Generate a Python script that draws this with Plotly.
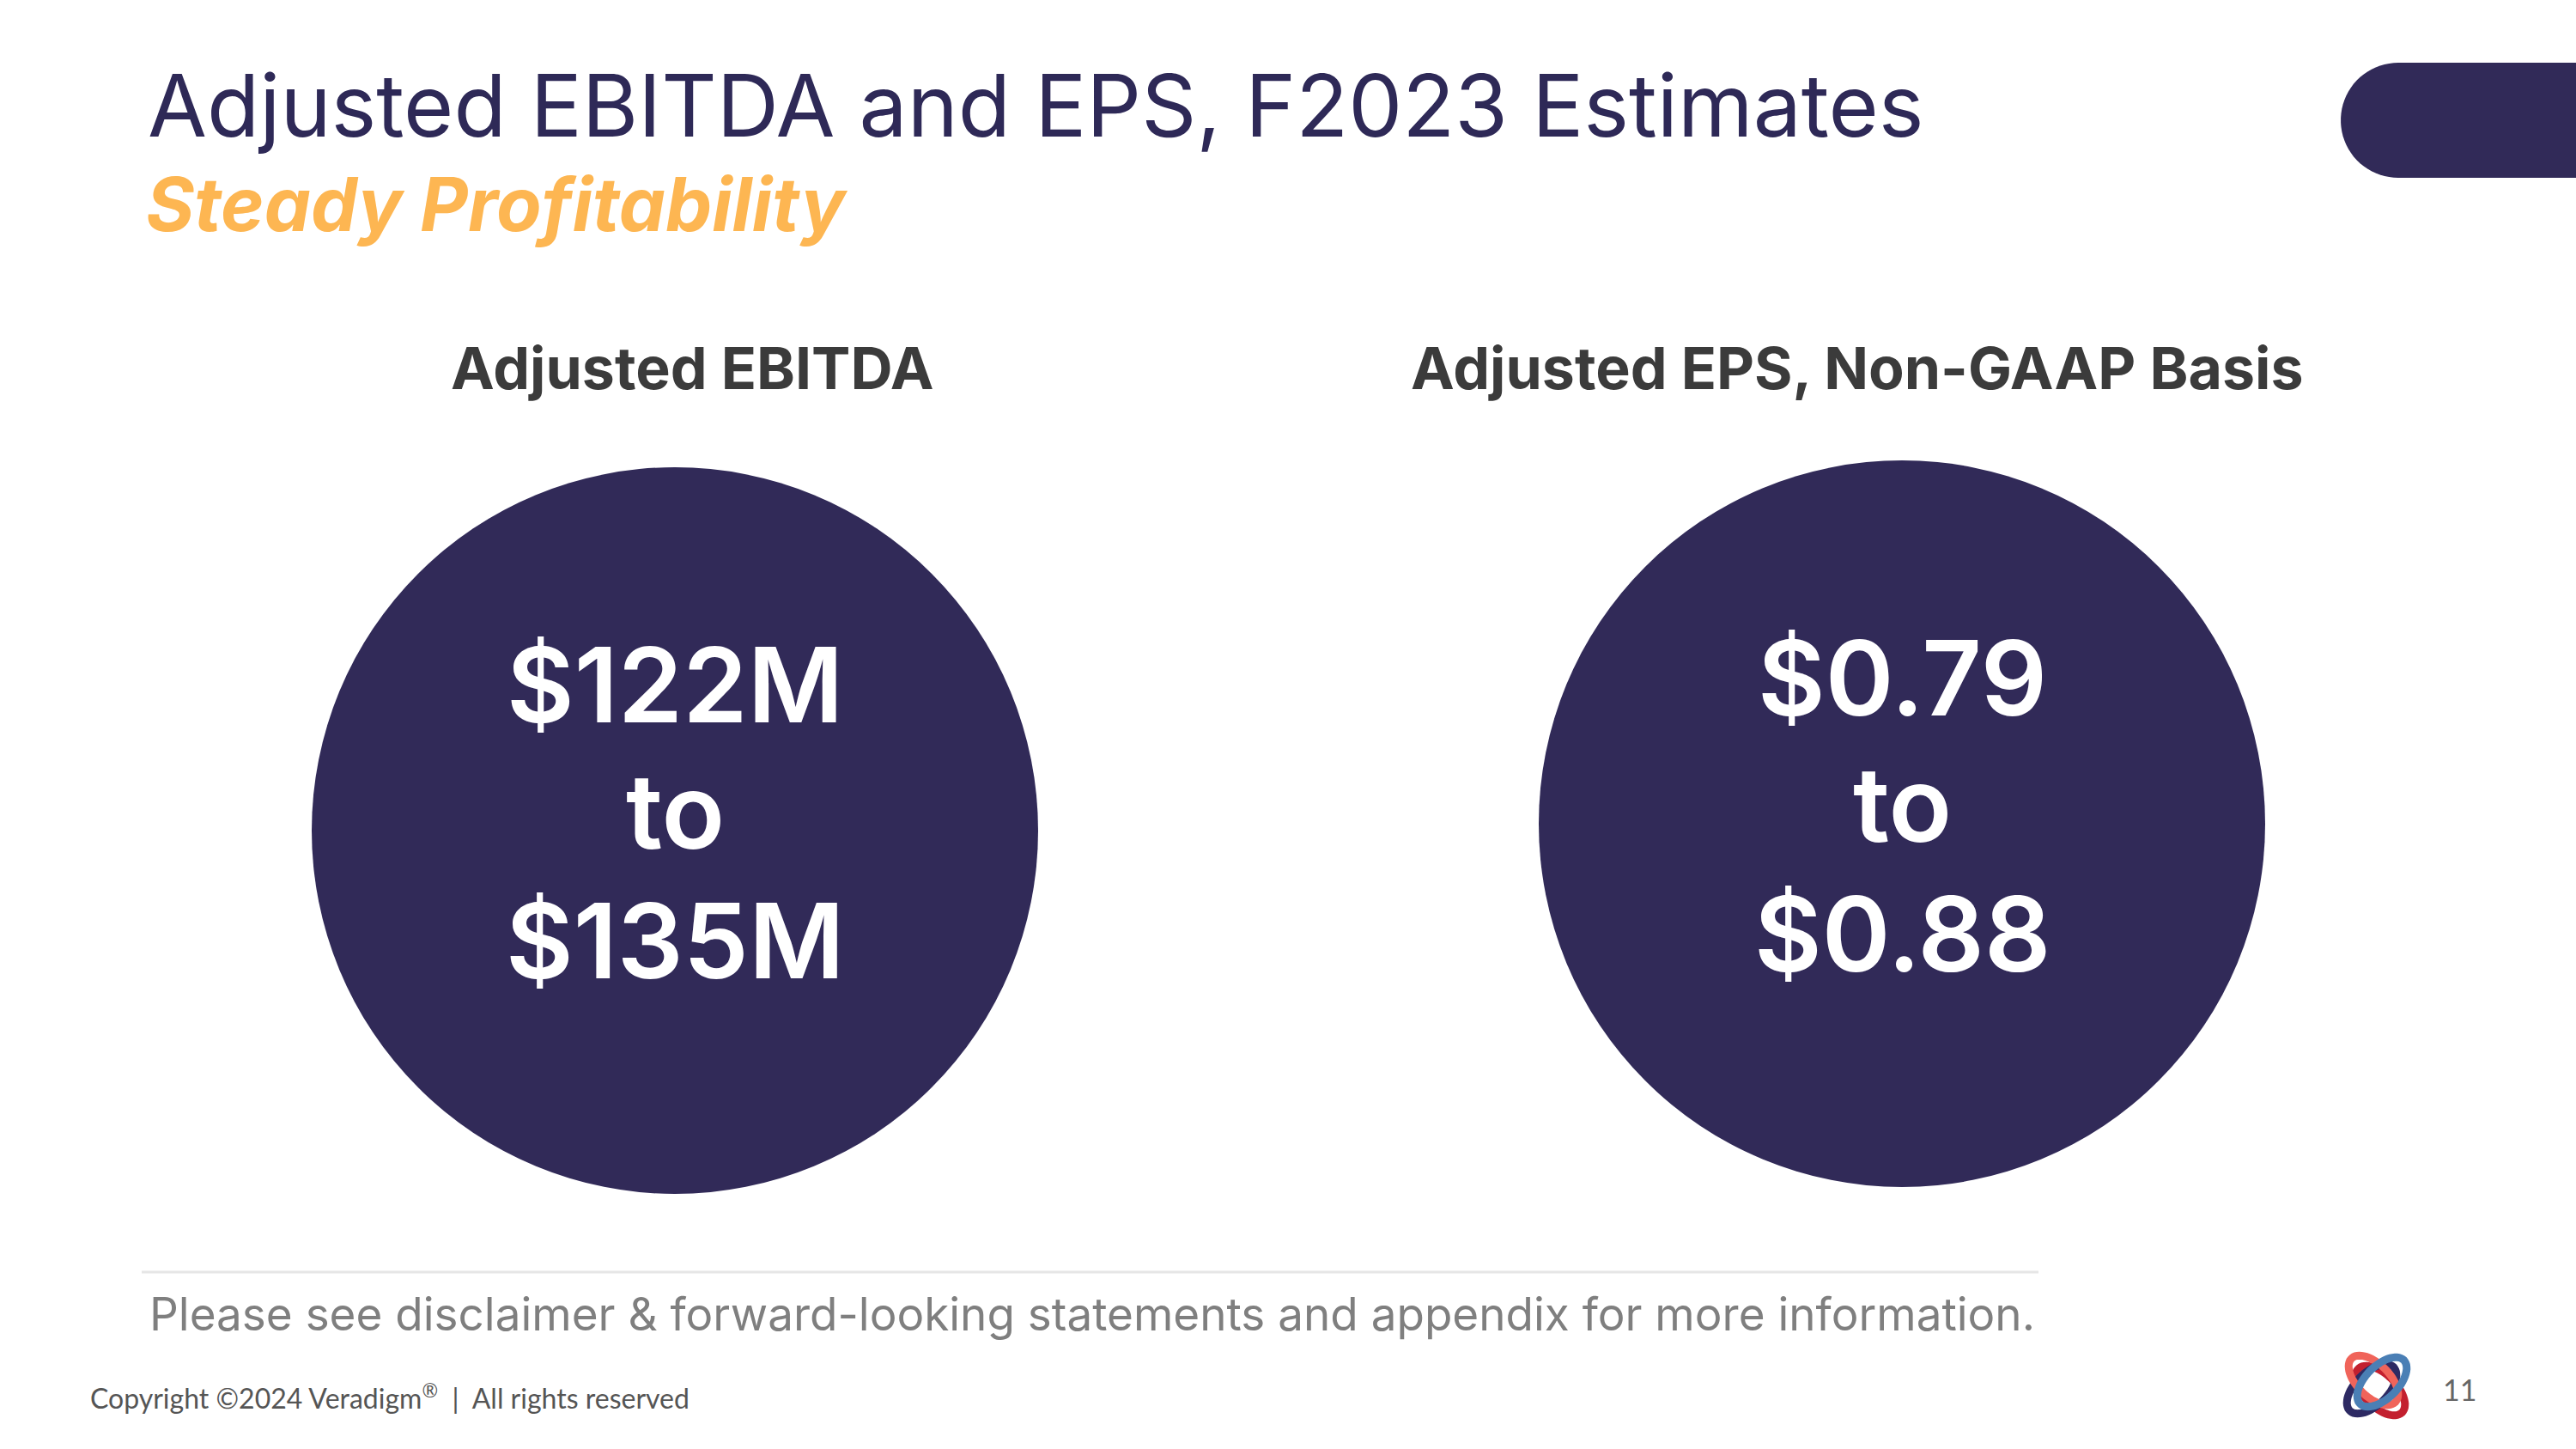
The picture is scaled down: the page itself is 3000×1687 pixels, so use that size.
import numpy as np
import plotly.graph_objects as go

# ---- data ----
slide_title = "Adjusted EBITDA and EPS, F2023 Estimates"
slide_subtitle = "Steady Profitability"
metric_names = ["Adjusted EBITDA", "Adjusted EPS, Non-GAAP Basis"]
range_low = ["$122M", "$0.79"]
range_high = ["$135M", "$0.88"]
footnote = "Please see disclaimer & forward-looking statements and appendix for more information."
copyright_text = "Copyright ©2024 Veradigm<sup>®</sup>  |  All rights reserved"
page_number = "11"

# ---- layout / style ----
W, H = 3000, 1687
NAVY = "#312a58"
TITLE_C = "#2e2957"
ORANGE = "#fdb652"
HEAD_C = "#3b3b3b"
FONT = "Inter"

circle_x = [786, 2215]
circle_y = [967, 959]
circle_d = 846
head_x = [806, 2163]
head_y = 428

fig = go.Figure()

fig.add_trace(go.Scatter(
    x=circle_x, y=circle_y, mode="markers",
    marker=dict(size=circle_d, color=NAVY, line=dict(width=0)),
    hoverinfo="skip", showlegend=False))

ann = []
def add_text(x, y, text, size, color, weight=400, xanchor="center", italic=False, family=FONT):
    ann.append(dict(x=x, y=y, xref="x", yref="y", text=text, showarrow=False,
                    xanchor=xanchor, yanchor="middle",
                    font=dict(family=family, size=size, color=color, weight=weight,
                              style="italic" if italic else "normal")))

add_text(170, 122, slide_title, 100, TITLE_C, 400, "left")
add_text(168, 238, slide_subtitle, 86, ORANGE, 700, "left", italic=True)

for i in range(2):
    add_text(head_x[i], head_y, metric_names[i], 68, HEAD_C, 700)
    cx = circle_x[i]
    cy = circle_y[i]
    add_text(cx, cy - 170, range_low[i], 121, "white", 600)
    add_text(cx, cy - 23, "to", 121, "white", 600)
    add_text(cx, cy + 128, range_high[i], 121, "white", 600)

add_text(172, 1530, footnote, 53, "#7f7f7f", 400, "left")
add_text(103, 1626, copyright_text, 32, "#555555", 400, "left", family="Lato")
add_text(2843, 1617, page_number, 34, "#666666", 400, "left", family="Lato")

shapes = []
# top-right tab (rounded left end)
r = 67
tab_top, tab_bot, tab_left = 73, 207, 2726
ang = np.linspace(np.pi / 2, 3 * np.pi / 2, 40)
arc = [(tab_left + r + r * np.cos(a), (tab_top + r) - r * np.sin(a)) for a in ang]
pts = [(W + 20, tab_top)] + arc + [(W + 20, tab_bot)]
tab_path = "M " + " L ".join(f"{x:.1f},{y:.1f}" for x, y in pts) + " Z"
shapes.append(dict(type="path", xref="x", yref="y", path=tab_path,
                   fillcolor=NAVY, line=dict(width=0)))
# separator line
shapes.append(dict(type="line", xref="x", yref="y", x0=165, x1=2374, y0=1481, y1=1481,
                   line=dict(color="#e6e6e6", width=3)))

# logo (decorative rings)
lc = (2768, 1613)
rings = [
    ("#c3202f", 45, (4, 6)),
    ("#2d2a63", -45, (-6, 4)),
    ("#f0645a", 45, (-4, -6)),
    ("#4a7fb5", -45, (6, -4)),
]
t = np.linspace(0, 2 * np.pi, 60)
for col, ang_d, (dx, dy) in rings:
    a, b = 36, 19
    th = np.deg2rad(ang_d)
    px = lc[0] + dx + a * np.cos(t) * np.cos(th) - b * np.sin(t) * np.sin(th)
    py = lc[1] + dy + a * np.cos(t) * np.sin(th) + b * np.sin(t) * np.cos(th)
    path = "M " + " L ".join(f"{x:.1f},{y:.1f}" for x, y in zip(px, py)) + " Z"
    shapes.append(dict(type="path", xref="x", yref="y", path=path,
                       line=dict(color=col, width=9)))

fig.update_layout(
    width=W, height=H, margin=dict(l=0, r=0, t=0, b=0),
    paper_bgcolor="white", plot_bgcolor="white",
    xaxis=dict(range=[0, W], visible=False, fixedrange=True),
    yaxis=dict(range=[H, 0], visible=False, fixedrange=True),
    annotations=ann, shapes=shapes, showlegend=False)

fig.write_html("out.html",
               config={"displayModeBar": False},
               post_script="document.body.style.margin='0px';document.body.style.overflow='hidden';")
